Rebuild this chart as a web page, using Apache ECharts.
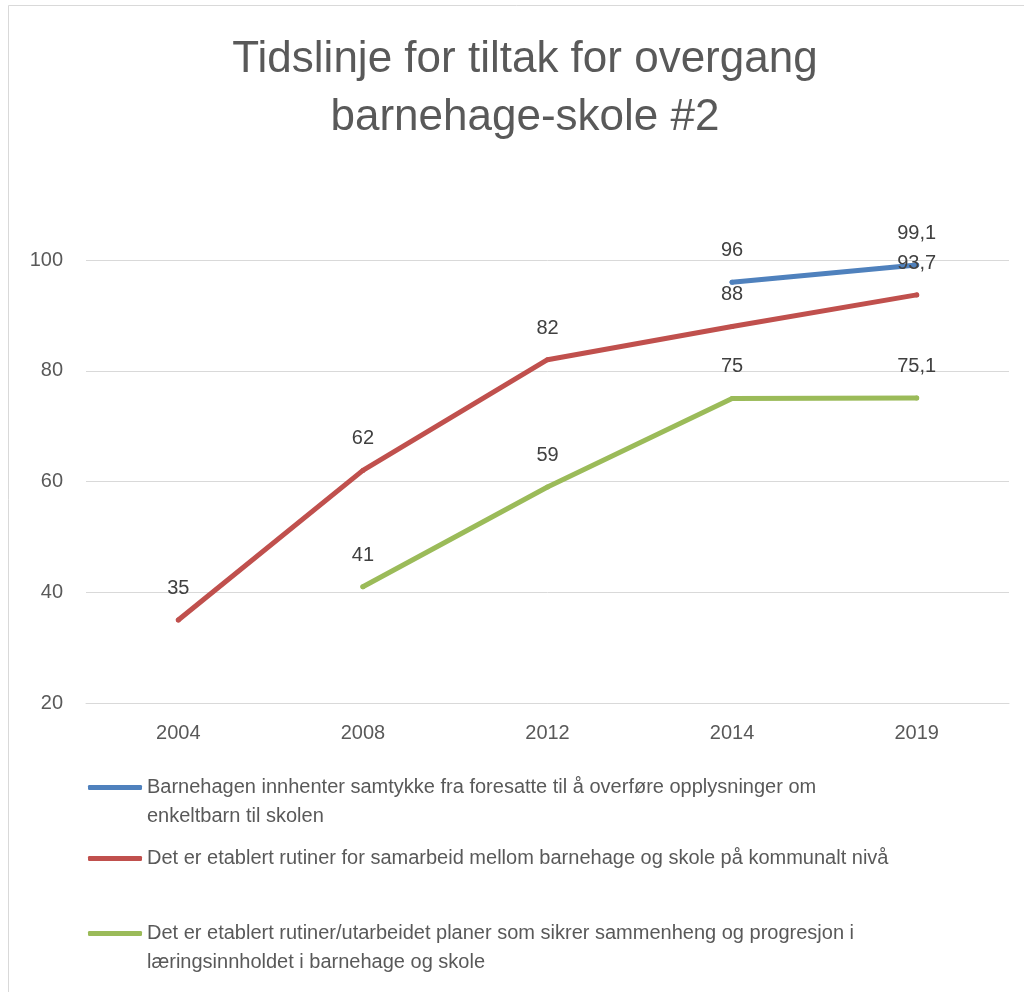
<!DOCTYPE html>
<html>
<head>
<meta charset="utf-8">
<script src="https://cdn.jsdelivr.net/npm/echarts@6/dist/echarts.min.js"></script>
<style>
  html, body { margin: 0; padding: 0; background: #fff; }
  #main { width: 1024px; height: 992px; }
</style>
</head>
<body>
<div id="main"></div>
<script>
const years = ['2004', '2008', '2012', '2014', '2019'];
const seriesNames = [
  'Barnehagen innhenter samtykke fra foresatte til å overføre opplysninger om enkeltbarn til skolen',
  'Det er etablert rutiner for samarbeid mellom barnehage og skole på kommunalt nivå',
  'Det er etablert rutiner/utarbeidet planer som sikrer sammenheng og progresjon i læringsinnholdet i barnehage og skole'
];
const samtykke = [null, null, null, 96, 99.1];
const rutinerKommunalt = [35, 62, 82, 88, 93.7];
const rutinerPlaner = [null, 41, 59, 75, 75.1];
const colors = ['#4F81BD', '#C0504D', '#9BBB59'];
const yTicks = [20, 40, 60, 80, 100];

const font = 'Liberation Sans';
const myChart = echarts.init(document.getElementById('main'));

// wrap long legend names like the original; a leading blank line keeps
// the icon level with the first text line
function wrapName(name) {
  const wrapped = name
    .replace(' om enkeltbarn', ' om\nenkeltbarn')
    .replace(' i læringsinnholdet', ' i\nlæringsinnholdet');
  return wrapped === name ? name : '\n' + wrapped;
}

function makeSeries(idx, data) {
  return {
    name: seriesNames[idx],
    type: 'line',
    data: data,
    symbol: 'circle',
    symbolSize: 5,
    showSymbol: true,
    itemStyle: { color: colors[idx], borderWidth: 0 },
    clip: false,
    lineStyle: { width: 5, cap: 'round', join: 'round', color: colors[idx] },
    label: {
      show: true,
      position: 'top',
      distance: 19,
      color: '#404040',
      fontFamily: font,
      fontSize: 20,
      formatter: (p) => String(p.value).replace('.', ',')
    },
    emphasis: { disabled: true }
  };
}

function makeLegend(idx, top) {
  return {
    data: [seriesNames[idx]],
    left: 88,
    top: top,
    padding: 0,
    icon: 'roundRect',
    itemWidth: 54,
    itemHeight: 5,
    itemGap: 3,
    selectedMode: false,
    formatter: wrapName,
    itemStyle: { color: colors[idx], borderWidth: 0 },
    textStyle: {
      color: '#595959',
      fontFamily: font,
      fontSize: 20,
      lineHeight: 29
    }
  };
}

myChart.setOption({
  animation: false,
  backgroundColor: '#fff',
  title: {
    text: 'Tidslinje for tiltak for overgang\nbarnehage-skole #2',
    left: 525,
    textAlign: 'center',
    top: 31,
    padding: 0,
    textStyle: {
      color: '#595959',
      fontFamily: font,
      fontSize: 44,
      fontWeight: 'normal',
      lineHeight: 58
    }
  },
  graphic: [{
    type: 'rect',
    shape: { x: 8.5, y: 5.5, width: 1100, height: 1100 },
    style: { fill: 'none', stroke: '#d9d9d9', lineWidth: 1 },
    silent: true
  }],
  legend: [
    makeLegend(0, 744),
    makeLegend(1, 844),
    makeLegend(2, 890)
  ],
  grid: { left: 86, right: 15, top: 260, bottom: 289 },
  xAxis: {
    type: 'category',
    data: years,
    boundaryGap: true,
    axisLine: { show: true, lineStyle: { color: '#d9d9d9', width: 1 } },
    axisTick: { show: false },
    axisLabel: { color: '#595959', fontFamily: font, fontSize: 20, margin: 20 }
  },
  yAxis: {
    type: 'value',
    min: yTicks[0],
    max: yTicks[yTicks.length - 1],
    interval: 20,
    axisLine: { show: false },
    axisTick: { show: false },
    splitLine: { lineStyle: { color: '#d9d9d9', width: 1 } },
    axisLabel: { color: '#595959', fontFamily: font, fontSize: 20, margin: 23 }
  },
  series: [
    makeSeries(0, samtykke),
    makeSeries(1, rutinerKommunalt),
    makeSeries(2, rutinerPlaner)
  ]
});
</script>
</body>
</html>
